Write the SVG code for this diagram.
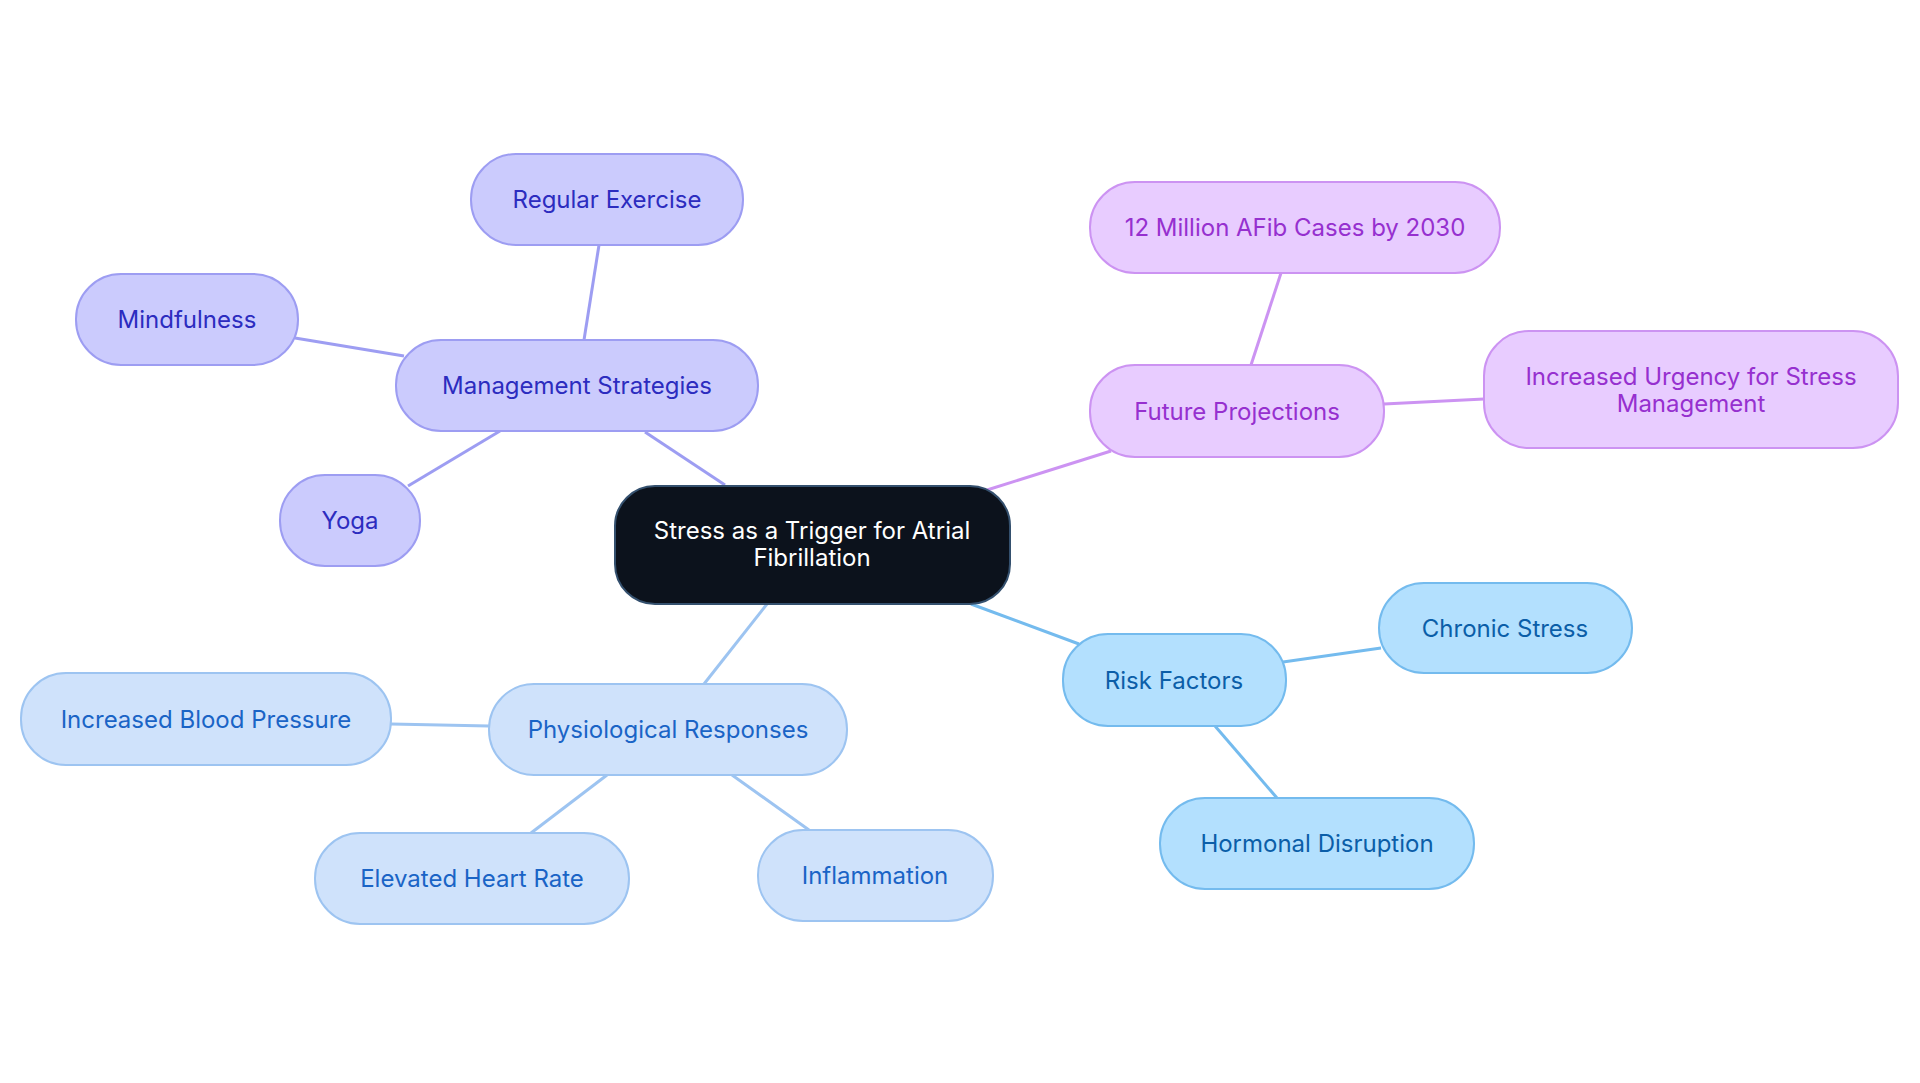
<svg xmlns="http://www.w3.org/2000/svg" width="1920" height="1083" viewBox="0 0 1920 1083">
<style>
text{font-family:Inter,"Noto Sans",sans-serif;font-size:24px;text-anchor:middle;dominant-baseline:central}
.m rect{fill:#cbcbfd;stroke:#9d9df2;stroke-width:2}.m text{fill:#2c2cbf}
.f rect{fill:#e8ccff;stroke:#cc93f2;stroke-width:2}.f text{fill:#9630cf}
.r rect{fill:#b3e0fe;stroke:#74bbee;stroke-width:2}.r text{fill:#0b5ea8}
.p rect{fill:#cfe2fb;stroke:#9dc4f1;stroke-width:2}.p text{fill:#1a64c6}
.c rect{fill:#0c121c;stroke:#34506e;stroke-width:2}.c text{fill:#fff}
#edges line{stroke-width:3;fill:none}
</style>
<rect width="1920" height="1083" fill="#fff"/>
<g id="edges">
<g stroke="#9d9df2"><line x1="725" y1="485" x2="645" y2="432"/><line x1="584" y1="340" x2="599" y2="245"/><line x1="404" y1="356" x2="295" y2="338"/><line x1="500" y1="431" x2="408" y2="486"/></g>
<g stroke="#cc93f2"><line x1="987" y1="490" x2="1111" y2="451"/><line x1="1251" y1="365" x2="1281" y2="273"/><line x1="1384" y1="404" x2="1484" y2="399"/></g>
<g stroke="#74bbee"><line x1="971" y1="604" x2="1079" y2="644"/><line x1="1283" y1="662" x2="1381" y2="648"/><line x1="1215" y1="726" x2="1277" y2="798"/></g>
<g stroke="#9dc4f1"><line x1="767" y1="604" x2="704" y2="684"/><line x1="489" y1="726" x2="391" y2="724"/><line x1="607" y1="775" x2="531" y2="833"/><line x1="732" y1="775" x2="809" y2="830"/></g>
</g>
<g id="center" class="c"><rect x="615" y="486" width="395" height="118" rx="40"/><text x="812" y="530">Stress as a Trigger for Atrial</text><text x="812" y="557">Fibrillation</text></g>
<g id="mgmt" class="m"><rect x="396" y="340" width="362" height="91" rx="45"/><text x="577" y="385">Management Strategies</text></g>
<g id="exercise" class="m"><rect x="471" y="154" width="272" height="91" rx="45"/><text x="607" y="199">Regular Exercise</text></g>
<g id="mindful" class="m"><rect x="76" y="274" width="222" height="91" rx="45"/><text x="187" y="319">Mindfulness</text></g>
<g id="yoga" class="m"><rect x="280" y="475" width="140" height="91" rx="45"/><text x="350" y="520">Yoga</text></g>
<g id="future" class="f"><rect x="1090" y="365" width="294" height="92" rx="45"/><text x="1237" y="411">Future Projections</text></g>
<g id="million" class="f"><rect x="1090" y="182" width="410" height="91" rx="45"/><text x="1295" y="227">12 Million AFib Cases by 2030</text></g>
<g id="urgency" class="f"><rect x="1484" y="331" width="414" height="117" rx="45"/><text x="1691" y="376">Increased Urgency for Stress</text><text x="1691" y="403">Management</text></g>
<g id="risk" class="r"><rect x="1063" y="634" width="223" height="92" rx="45"/><text x="1174" y="680">Risk Factors</text></g>
<g id="chronic" class="r"><rect x="1379" y="583" width="253" height="90" rx="45"/><text x="1505" y="628">Chronic Stress</text></g>
<g id="hormonal" class="r"><rect x="1160" y="798" width="314" height="91" rx="45"/><text x="1317" y="843">Hormonal Disruption</text></g>
<g id="phys" class="p"><rect x="489" y="684" width="358" height="91" rx="45"/><text x="668" y="729">Physiological Responses</text></g>
<g id="bp" class="p"><rect x="21" y="673" width="370" height="92" rx="45"/><text x="206" y="719">Increased Blood Pressure</text></g>
<g id="hr" class="p"><rect x="315" y="833" width="314" height="91" rx="45"/><text x="472" y="878">Elevated Heart Rate</text></g>
<g id="infl" class="p"><rect x="758" y="830" width="235" height="91" rx="45"/><text x="875" y="875">Inflammation</text></g>
</svg>
